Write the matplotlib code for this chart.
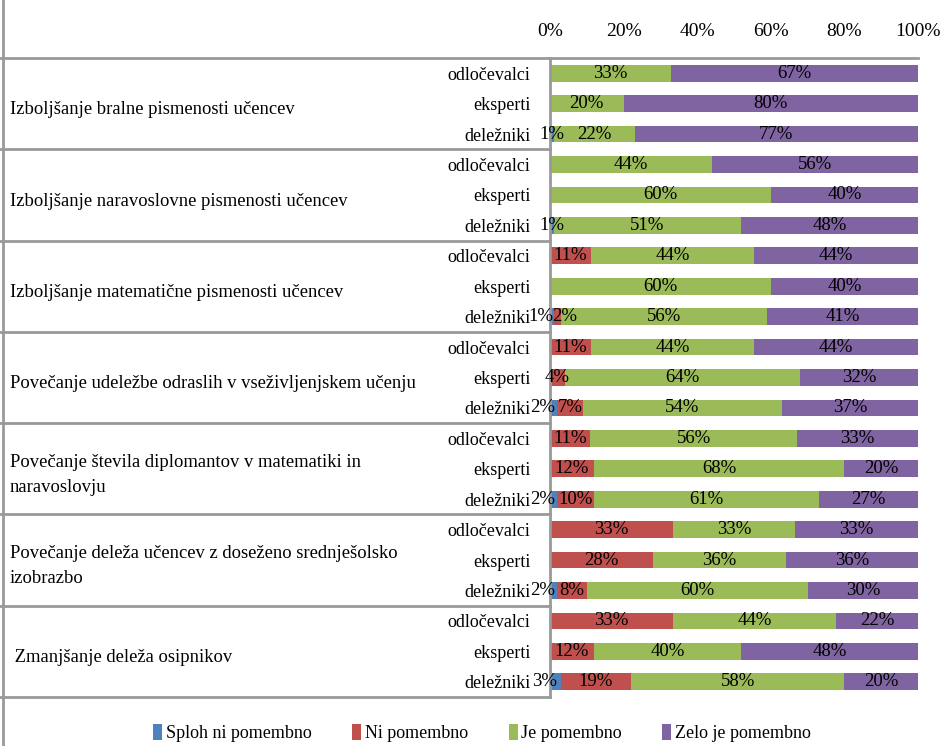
import numpy as np
import matplotlib.pyplot as plt
from matplotlib.transforms import blended_transform_factory
from matplotlib.lines import Line2D

plt.rcParams['font.family'] = ['Liberation Serif', 'DejaVu Serif']

groups = ['Izboljšanje bralne pismenosti učencev',
          'Izboljšanje naravoslovne pismenosti učencev',
          'Izboljšanje matematične pismenosti učencev',
          'Povečanje udeležbe odraslih v vseživljenjskem učenju',
          'Povečanje števila diplomantov v matematiki in\nnaravoslovju',
          'Povečanje deleža učencev z doseženo srednješolsko\nizobrazbo',
          ' Zmanjšanje deleža osipnikov']
roles = ['odločevalci', 'eksperti', 'deležniki']
series = ['Sploh ni pomembno', 'Ni pomembno', 'Je pomembno', 'Zelo je pomembno']
colors = ['#4F81BD', '#C0504D', '#9BBB59', '#8064A2']

# one row per (group, role), values in %
sploh = [0, 0, 1,  0, 0, 1,  0, 0, 1,  0, 0, 2,  0, 0, 2,  0, 0, 2,  0, 0, 3]
ni    = [0, 0, 0,  0, 0, 0, 11, 0, 2, 11, 4, 7, 11, 12, 10, 33, 28, 8, 33, 12, 19]
je    = [33, 20, 22, 44, 60, 51, 44, 60, 56, 44, 64, 54, 56, 68, 61, 33, 36, 60, 44, 40, 58]
zelo  = [67, 80, 77, 56, 40, 48, 44, 40, 41, 44, 32, 37, 33, 20, 27, 33, 36, 30, 22, 48, 20]

data = np.array([sploh, ni, je, zelo], dtype=float)
shares = data / data.sum(axis=0) * 100
n = data.shape[1]
y = np.arange(n)

fig = plt.figure(figsize=(9.41, 7.46), dpi=100)
W, H = 941, 746
ax = fig.add_axes([550 / W, 1 - 697 / H, (918 - 550) / W, (697 - 58) / H])

left = np.zeros(n)
bars = []
for k in range(4):
    b = ax.barh(y, shares[k], left=left, height=0.55, color=colors[k], label=series[k])
    bars.append(b)
    for i in range(n):
        if data[k, i] > 0:
            xc = left[i] + shares[k, i] / 2
            # nudge tiny neighbouring labels apart a little
            if k == 0 and data[1, i] > 0:
                xc -= 3
            if k == 1 and data[1, i] < 5 and data[0, i] > 0:
                xc += 2
            ax.text(xc, y[i], '%d%%' % data[k, i],
                    ha='center', va='center', fontsize=13.5, color='black')
    left += shares[k]

ax.set_xlim(0, 100)
ax.set_ylim(n - 0.5, -0.5)
for s in ax.spines.values():
    s.set_visible(False)
ax.xaxis.tick_top()
ax.set_xticks(np.arange(0, 101, 20))
ax.set_xticklabels(['%d%%' % v for v in range(0, 101, 20)], fontsize=14)
ax.set_yticks(y)
ax.set_yticklabels(roles * len(groups), fontsize=13)
ax.tick_params(axis='x', length=0, pad=13)
ax.tick_params(axis='y', length=0, pad=14)

# table lines
grid = '#999999'
tr = blended_transform_factory(fig.transFigure, ax.transData)
ax.plot([0, 918 / W], [-0.5, -0.5], color=grid, lw=2, transform=tr, clip_on=False)
for g in range(1, len(groups) + 1):
    yy = g * 3 - 0.5
    ax.plot([0, 550 / W], [yy, yy], color=grid, lw=2, transform=tr, clip_on=False)
ax.plot([0, 0], [-0.5, n - 0.5], color=grid, lw=2, clip_on=False)
fig.add_artist(Line2D([3 / W, 3 / W], [0, 1], color=grid, lw=2))

# group labels
for g, name in enumerate(groups):
    ax.text(10 / W, g * 3 + 1.2, name, transform=tr, ha='left', va='center',
            fontsize=13.4, linespacing=1.6)

fig.legend(handles=bars, labels=series, loc='center', bbox_to_anchor=(482 / W, 1 - 733 / H),
           ncol=4, frameon=False, fontsize=13, handlelength=0.5, handleheight=1.0,
           handletextpad=0.2, columnspacing=2.25)

fig.savefig('out.png', dpi=100)
